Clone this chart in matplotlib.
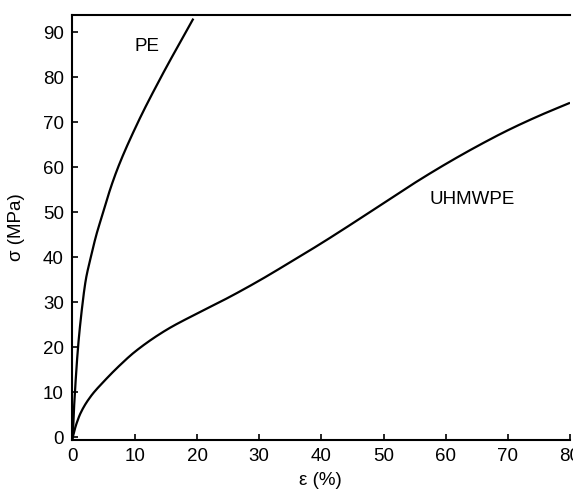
import matplotlib
matplotlib.use("Agg")
import matplotlib.pyplot as plt
import numpy as np

plt.rcParams['font.family'] = ['Liberation Sans', 'DejaVu Sans']

# PE curve (read as strain for given stress levels)
pe_stress = [0.0, 5.0, 10.0, 20.0, 30.0, 35.0, 40.0, 45.0, 50.0, 55.0, 60.0, 70.0, 80.0, 93.0]
pe_strain = [0.0, 0.15, 0.35, 0.85, 1.6, 2.1, 2.9, 3.8, 4.9, 6.0, 7.3, 10.5, 14.2, 19.4]

# UHMWPE curve
uh_strain = [0.0, 0.5, 1.3, 2.9, 5.0, 7.5, 10.0, 15.0, 20.0, 25.0, 30.0, 35.0,
             40.0, 45.0, 50.0, 55.0, 60.0, 65.0, 70.0, 75.0, 80.0]
uh_stress = [0.0, 2.6, 5.5, 9.1, 12.4, 15.9, 19.0, 23.8, 27.5, 31.0, 34.8, 38.9,
             43.1, 47.5, 52.0, 56.5, 60.7, 64.6, 68.2, 71.4, 74.3]

xticks = [0, 10, 20, 30, 40, 50, 60, 70, 80]
yticks = [0, 10, 20, 30, 40, 50, 60, 70, 80, 90]


def pchip(x, y, xn):
    x = np.asarray(x, float)
    y = np.asarray(y, float)
    h = np.diff(x)
    delta = np.diff(y) / h
    n = len(x)
    d = np.zeros(n)
    for k in range(1, n - 1):
        if delta[k - 1] * delta[k] > 0:
            w1 = 2 * h[k] + h[k - 1]
            w2 = h[k] + 2 * h[k - 1]
            d[k] = (w1 + w2) / (w1 / delta[k - 1] + w2 / delta[k])
    d[0] = delta[0]
    d[-1] = delta[-1]
    idx = np.clip(np.searchsorted(x, xn) - 1, 0, n - 2)
    t = (xn - x[idx]) / h[idx]
    hh = h[idx]
    h00 = 2*t**3 - 3*t**2 + 1
    h10 = t**3 - 2*t**2 + t
    h01 = -2*t**3 + 3*t**2
    h11 = t**3 - t**2
    return h00*y[idx] + h10*hh*d[idx] + h01*y[idx + 1] + h11*hh*d[idx + 1]


fig = plt.figure(figsize=(5.73, 4.92), dpi=100)
ax = fig.add_axes([0.1248, 0.1057, 0.8700, 0.8638])

ys = np.linspace(pe_stress[0], pe_stress[-1], 400)
xs = pchip(pe_stress, pe_strain, ys)
ax.plot(xs, ys, color='black', lw=1.6, clip_on=False, solid_capstyle='butt')

xu = np.linspace(uh_strain[0], uh_strain[-1], 400)
yu = pchip(uh_strain, uh_stress, xu)
ax.plot(xu, yu, color='black', lw=1.6, solid_capstyle='butt')

ax.set_xlim(-0.2, 80)
ax.set_ylim(-0.6, 93.8)
ax.set_xticks(xticks)
ax.set_yticks(yticks)
ax.tick_params(direction='in', length=4, width=1.2, labelsize=13.5, pad=5.5,
               top=False, right=False)
ax.spines['right'].set_visible(False)
for s in ('left', 'bottom', 'top'):
    ax.spines[s].set_linewidth(1.5)

ax.set_xlabel('ε (%)', fontsize=13.5, labelpad=5)
ax.set_ylabel('σ (MPa)', fontsize=13.5, labelpad=13)

ax.text(12.0, 86.8, 'PE', fontsize=13.5, ha='center', va='center')
ax.text(64.2, 52.8, 'UHMWPE', fontsize=13.5, ha='center', va='center')

fig.savefig('out.png', dpi=100)
